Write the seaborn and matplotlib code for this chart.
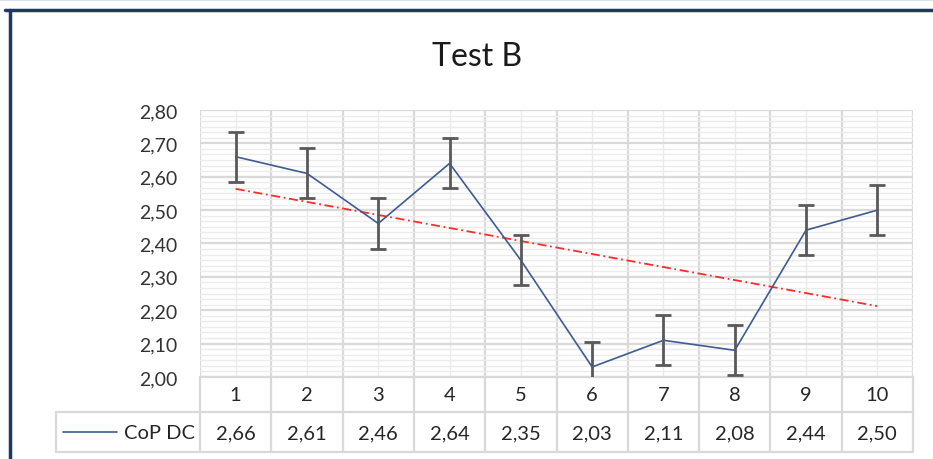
import numpy as np
import pandas as pd
import matplotlib.pyplot as plt
import seaborn as sns
from matplotlib.lines import Line2D
from matplotlib.ticker import MultipleLocator, AutoMinorLocator, FixedLocator, FuncFormatter

# data
trials = [1, 2, 3, 4, 5, 6, 7, 8, 9, 10]
cop_dc = [2.66, 2.61, 2.46, 2.64, 2.35, 2.03, 2.11, 2.08, 2.44, 2.50]
cop_err = [0.075, 0.075, 0.075, 0.075, 0.075, 0.075, 0.075, 0.075, 0.075, 0.075]
series_name = 'CoP DC'
chart_title = 'Test B'

df = pd.DataFrame({'trial': trials, 'value': cop_dc, 'err': cop_err})

sns.set_theme(style='white')
plt.rcParams['font.family'] = ['Lato', 'DejaVu Sans']

W, H = 933, 460
fig = plt.figure(figsize=(W / 100, H / 100), dpi=100)


def fx(px):
    return px / W


def fy(py):
    return 1 - py / H


# plot area in pixels
x0, x1, y0, y1 = 200, 913, 111, 378
col_w = (x1 - x0) / len(trials)
ax = fig.add_axes([fx(x0), fy(y1), fx(x1) - fx(x0), fy(y0) - fy(y1)])

line_col = '#3E5B92'
grid_major = '#D9D9D9'
grid_minor = '#EBEBEB'
text_col = '#262626'

# linear trendline
sns.regplot(data=df, x='trial', y='value', scatter=False, ci=None, ax=ax,
            color='#FF2A2A', line_kws={'lw': 1.3, 'ls': (0, (5, 2, 1, 2))})
sns.lineplot(data=df, x='trial', y='value', ax=ax, color=line_col, lw=1.2)
ax.errorbar(df['trial'], df['value'], yerr=df['err'], fmt='none',
            ecolor='#595959', elinewidth=2, capsize=6, capthick=2, zorder=4)

ax.set_xlim(0.5, 10.5)
ax.set_ylim(2.0, 2.8)
ax.set_xlabel('')
ax.set_ylabel('')
ax.yaxis.set_major_locator(MultipleLocator(0.1))
ax.yaxis.set_minor_locator(AutoMinorLocator(6))
ax.xaxis.set_major_locator(FixedLocator(np.arange(0.5, 11, 1)))
ax.xaxis.set_minor_locator(FixedLocator(trials))
ax.set_axisbelow(True)
ax.grid(which='major', color=grid_major, lw=1.6)
ax.grid(which='minor', color=grid_minor, lw=1)
ax.tick_params(axis='x', which='both', length=0, labelbottom=False)
ax.tick_params(axis='y', which='both', length=0, pad=16, labelsize=14, labelcolor='#333333')
ax.yaxis.set_major_formatter(FuncFormatter(lambda v, p: f'{v:.2f}'.replace('.', ',')))
for side, sp in ax.spines.items():
    sp.set_visible(side == 'bottom')
ax.spines['bottom'].set_color(grid_major)
ax.spines['bottom'].set_linewidth(1.6)

# data table below the plot
left_px = 56
tab = fig.add_axes([fx(left_px), fy(453), fx(x1) - fx(left_px), fy(y1) - fy(453)])


def xd(px):
    return 0.5 + (px - x0) / col_w


tab.set_xlim(xd(left_px), 10.5)
tab.set_ylim(453, 378)
tab.axis('off')
for b in np.arange(0.5, 11, 1):
    tab.plot([b, b], [378, 453], color=grid_major, lw=1.6, clip_on=False)
tab.plot([xd(left_px), 10.5], [413, 413], color=grid_major, lw=1.6, clip_on=False)
tab.plot([xd(left_px), 10.5], [453, 453], color=grid_major, lw=1.6, clip_on=False)
tab.plot([xd(left_px), xd(left_px)], [413, 453], color=grid_major, lw=1.6, clip_on=False)
for t, v in zip(trials, cop_dc):
    tab.text(t, 396, str(t), ha='center', va='center', fontsize=14.5, color=text_col)
    tab.text(t, 434, f'{v:.2f}'.replace('.', ','), ha='center', va='center',
             fontsize=14.5, color=text_col)
tab.plot([xd(63), xd(117)], [433, 433], color=line_col, lw=1.2)
tab.text(xd(195), 434, series_name, ha='right', va='center', fontsize=14.5, color=text_col)

# title and window frame
fig.text(fx(477), fy(57), chart_title, ha='center', va='center', fontsize=23, color='#1a1a1a')
fig.add_artist(Line2D([0, 1], [fy(1), fy(1)], color='#DCE2EA', lw=1.5))
fig.add_artist(Line2D([fx(5), 1], [fy(11), fy(11)], color='#203864', lw=2.5))
fig.add_artist(Line2D([fx(10), fx(10)], [fy(11), 0], color='#203864', lw=2.5))

fig.savefig('out.png', dpi=100)
